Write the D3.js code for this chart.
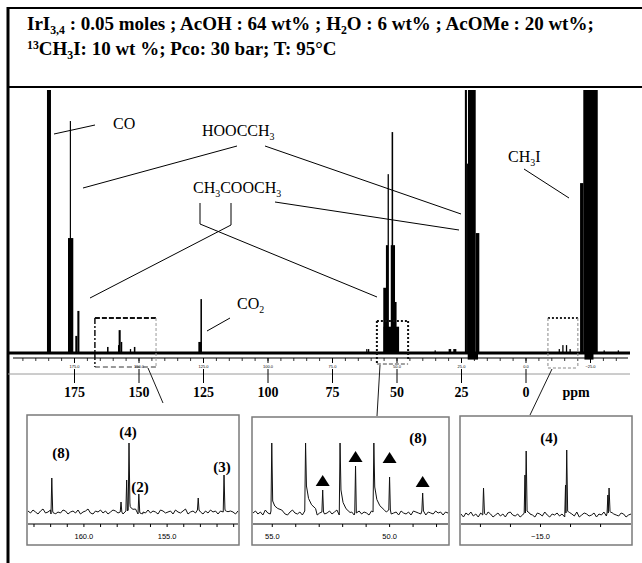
<!DOCTYPE html>
<html>
<head>
<meta charset="utf-8">
<script src="https://cdn.jsdelivr.net/npm/d3@7"></script>
<style>
  html, body { margin: 0; padding: 0; background: #fff; }
  svg { display: block; }
</style>
</head>
<body>
<svg id="fig" width="642" height="563"></svg>
<script>
// ---------------- data ----------------
// Overview 13C spectrum: stick positions (ppm), widths (ppm), heights (% of full scale, >100 runs off the top)
const peakPpm    = [184.7, 176.3, 176.4, 174.1, 173.3, 161.9, 157.7, 157.3, 156.6, 153.1, 151.5,
                    126.2, 125.7, 61.5, 60.8, 52.0, 54.6, 53.7, 53.2, 51.4, 51.6, 50.3,
                    35.0, 29.3, 27.4, 23.1, 22.5, 20.8, 18.6, 20.4,
                    -13.1, -14.5, -15.9, -17.3, -21.8, -25.2, -24.6, -30.5, -36.0];
const peakWidth  = [1.55, 2.05, 0.45, 0.8, 0.8, 0.6, 0.5, 0.8, 0.6, 0.5, 0.6,
                    1.2, 0.6, 0.5, 0.5, 6.0, 1.05, 0.8, 0.5, 1.65, 0.6, 0.65,
                    0.5, 1.0, 1.2, 0.8, 0.4, 3.0, 1.4, 4.0,
                    0.5, 0.5, 0.5, 0.5, 1.3, 5.6, 3.5, 0.5, 0.5];
const peakHeight = [120, 43.7, 88.2, 6.5, 16, 2.3, 3, 8.7, 4.2, 1.5, 2.3,
                    4.2, 20.5, 1.5, 1.5, 10, 24.8, 41, 68, 41, 84, 19.4,
                    1, 1.5, 1.5, 120, 72, 120, 45.6, -2.5,
                    1.5, 3, 3, 1.5, 64.6, 120, -2.5, 1, 1];

const axisMajor = [175, 150, 125, 100, 75, 50, 25, 0, -25];
const axisBig   = [175, 150, 125, 100, 75, 50, 25, 0];

// Expansion 1: carbonyl region 163 - 151 ppm
const ins1Ppm    = [161.9, 157.74, 157.4, 157.26, 156.67, 153.1, 151.55];
const ins1Height = [34, 10, 32, 69, 18, 14, 37];
const ins1Tail   = [3, 0, 0, 7, 2, 0, 3];
const ins1Noise  = [1,-1,2,0,-2,1,3,-1,0,2,-2,1,0,-1,2,1,-2,0,1,-1,2,-2,0,1,3,-1,-2,1,0,2,
                    -1,1,-2,0,2,1,-1,0,-2,1,2,0,-1,3,-2,1,0,-1,2,-1,1,0,-2,2,1,-1,0,1,-2,2,
                    0,-1,1,3,-2,0,1,-1,2,0,-2,1,-1,2,0,1,-2,1,0,2,-1,1,0,-2,1];
const ins1Labels = ["(8)", "(4)", "(2)", "(3)"];

// Expansion 2: methoxy region 56 - 47.5 ppm
const ins2Ppm    = [55.0, 53.56, 52.09, 50.65, 52.83, 51.43, 49.98, 48.57];
const ins2Height = [70, 70, 70, 70, 23, 47, 36, 20];
const ins2Tail   = [10, 25, 25, 25, 0, 0, 0, 0];
const ins2Marked = [52.83, 51.43, 49.98, 48.57];
const ins2MarkLevel = [27, 51, 50, 26];
const ins2Noise  = [0,2,-1,1,-2,3,0,-1,2,-2,1,0,2,-1,-2,1,3,0,-1,1,-2,2,0,1,-1,2,-2,0,1,-1,
                    0,2,-1,1,3,-2,0,1,-1,2,1,-2,0,2,-1,1,0,-2,2,1,-1,0,2,-2,1,3,-1,0,1,-2,
                    2,0,-1,1,-2,2,1,0,-1,2,-2,1,0,-1,2,0,1,-2,1,0];

// Expansion 3: region around -15 ppm
const ins3Ppm    = [-13.12, -14.5, -14.54, -15.85, -15.89, -17.26, -17.3];
const ins3Height = [27, 40, 64, 30, 65, 20, 27];
const ins3Tail   = [3, 3, 4, 3, 4, 3, 3];
const ins3Noise  = [1,-2,2,0,3,-1,1,-2,2,0,-1,3,1,-2,0,2,-1,1,-2,2,3,0,-1,1,-2,0,2,-1,1,0,
                    -2,2,1,-1,3,0,-2,1,0,2,-1,1,-2,2,0,1,-1,3,-2,0,2,1,-1,0,2,-2,1,0,3,-1,
                    2,-2,1,0,-1,2,1,-2,0,1];

// ---------------- drawing ----------------
const svg = d3.select("#fig");
const serif = "'Liberation Serif','Times New Roman',serif";
const sans = "'Liberation Sans',Arial,sans-serif";

// text with sub/superscripts: segs = [[text, "sub"|"sup"|undefined], ...]
function richText(g, x, y, segs, size, weight, anchor) {
  const t = g.append("text").attr("x", x).attr("y", y)
    .attr("font-family", serif).attr("font-size", size)
    .attr("font-weight", weight || "normal")
    .attr("text-anchor", anchor || "start");
  let shift = 0;
  segs.forEach(([s, mode]) => {
    const target = mode === "sub" ? size * 0.22 : mode === "sup" ? -size * 0.32 : 0;
    t.append("tspan")
      .attr("dy", target - shift)
      .attr("font-size", mode ? size * 0.62 : size)
      .text(s);
    shift = target;
  });
  return t;
}

function line(g, x1, y1, x2, y2, stroke, w, dash) {
  return g.append("line").attr("x1", x1).attr("y1", y1).attr("x2", x2).attr("y2", y2)
    .attr("stroke", stroke || "#000").attr("stroke-width", w || 1)
    .attr("stroke-dasharray", dash || null);
}

// frame and title block
line(svg, 8, 8, 642, 8, "#000", 2);
line(svg, 8, 7, 8, 563, "#000", 3);
line(svg, 8, 87, 642, 87, "#000", 2);

richText(svg, 27, 30, [["IrI"], ["3,4", "sub"], [" : 0.05 moles ; AcOH : 64 wt% ; H"], ["2", "sub"],
  ["O : 6 wt% ; AcOMe : 20 wt%;"]], 19, "bold");
richText(svg, 27, 55, [["13", "sup"], ["CH"], ["3", "sub"], ["I: 10 wt %; Pco: 30 bar; T: 95°C"]], 19, "bold");

// main spectrum
const xMain = d3.scaleLinear().domain([175, -25]).range([74, 590]);
const yMain = d3.scaleLinear().domain([0, 100]).range([353, 90]);

svg.append("defs").append("clipPath").attr("id", "mainClip")
  .append("rect").attr("x", 9).attr("y", 90).attr("width", 633).attr("height", 274);

const peaks = peakPpm.map((p, i) => ({ p, w: peakWidth[i], h: peakHeight[i] }));
svg.append("g").attr("clip-path", "url(#mainClip)")
  .selectAll("rect").data(peaks).join("rect")
  .attr("x", d => xMain(d.p + d.w / 2))
  .attr("width", d => xMain(d.p - d.w / 2) - xMain(d.p + d.w / 2))
  .attr("y", d => yMain(Math.max(d.h, 0)))
  .attr("height", d => Math.abs(yMain(d.h) - yMain(0)))
  .attr("fill", "#000");

// baseline trace
line(svg, 8, yMain(0), 630, yMain(0), "#000", 3);

// ppm axis with minor ticks
const minorTicks = d3.range(-35, 201, 5).filter(v => xMain(v) > 13 && xMain(v) < 628);
const axMinor = svg.append("g").attr("transform", "translate(0,358)")
  .call(d3.axisBottom(xMain).tickValues(minorTicks).tickSize(3).tickFormat(""));
axMinor.select(".domain").remove();
axMinor.selectAll("line").attr("stroke", "#000").attr("stroke-width", 0.8);
line(svg, 13, 358, 628, 358, "#000", 1);

const axTiny = svg.append("g").attr("transform", "translate(0,358)")
  .call(d3.axisBottom(xMain).tickValues(axisMajor).tickSize(5).tickPadding(2).tickFormat(d3.format(".1f")));
axTiny.select(".domain").remove();
axTiny.selectAll("text").attr("font-size", 4).attr("font-family", sans).attr("fill", "#000");

line(svg, 8, 374, 630, 374, "#9a9a9a", 1);

const axBig = svg.append("g").attr("transform", "translate(0,369)")
  .call(d3.axisBottom(xMain).tickValues(axisBig).tickSize(14).tickPadding(4).tickFormat(d3.format("d")));
axBig.select(".domain").remove();
axBig.selectAll("line").attr("stroke", "#000").attr("stroke-width", 1);
axBig.selectAll("text").attr("font-size", 14).attr("font-weight", "bold")
  .attr("font-family", serif).attr("fill", "#000");
svg.append("text").attr("x", 576).attr("y", 397).attr("text-anchor", "middle")
  .attr("font-family", serif).attr("font-size", 14).attr("font-weight", "bold").text("ppm");

// assignments
const ann = svg.append("g");
richText(ann, 113, 129, [["CO"]], 16);
line(ann, 54, 134, 95, 125);
richText(ann, 202, 136, [["HOOCCH"], ["3", "sub"]], 16);
line(ann, 237, 146, 83, 188);
line(ann, 265, 146, 461, 214);
richText(ann, 193, 193, [["CH"], ["3", "sub"], ["COOCH"], ["3", "sub"]], 16);
line(ann, 275, 202, 459, 230);
line(ann, 200, 203, 200, 224);
line(ann, 231, 203, 231, 225);
line(ann, 200, 224, 377, 297);
line(ann, 231, 225, 90, 298);
richText(ann, 237, 309, [["CO"], ["2", "sub"]], 16);
line(ann, 230, 318, 207, 331);
richText(ann, 508, 162, [["CH"], ["3", "sub"], ["I"]], 16);
line(ann, 524, 169, 569, 198);

// expansion frames on the main trace
const bx = svg.append("g").attr("fill", "none");
{
  const l = xMain(166.9), r = xMain(143.2);
  line(bx, l, 318, r, 318, "#111", 1.8, "5,2");
  line(bx, l, 318, l, 367, "#111", 1.5, "6,2,2,2");
  line(bx, r, 318, r, 367, "#9a9a9a", 1, "3,2");
  line(bx, l, 367, r, 367, "#333", 1, "5,3");
}
{
  const l = xMain(57.6), r = xMain(45.5);
  line(bx, l, 321, r, 321, "#111", 2, "2,2");
  line(bx, l, 321, l, 365, "#111", 2, "2,2");
  line(bx, r, 321, r, 361, "#111", 2, "2,2");
  line(bx, l, 364, r, 364, "#444", 1, "4,2");
}
{
  const l = xMain(-8.7), r = xMain(-20.3);
  line(bx, l, 318, r, 318, "#222", 1.8, "2,2");
  line(bx, l, 318, l, 368, "#888", 1, "3,2");
  line(bx, r, 318, r, 368, "#888", 1, "3,2");
  line(bx, l, 368, r, 368, "#888", 1, "3,2");
}
// connectors to the expansions
line(svg, 148, 368, 163, 403, "#000", 0.9);
line(svg, 380, 365, 377, 416, "#000", 0.9);
line(svg, 552, 369, 530, 415, "#000", 0.9);

// expansion panels
function drawInset(cfg) {
  const [x0, y0, x1, y1] = cfg.box;
  const g = svg.append("g");
  const id = "clip" + cfg.name;
  svg.select("defs").append("clipPath").attr("id", id)
    .append("rect").attr("x", x0 + 1).attr("y", y0 + 1).attr("width", x1 - x0 - 2).attr("height", y1 - y0 - 2);

  const x = d3.scaleLinear().domain(cfg.domain).range([x0 + 1, x1 - 1]);
  const y = d3.scaleLinear().domain([0, 100]).range([cfg.base, cfg.base - 100]);

  // noisy baseline samples across the panel
  const n = cfg.noise.length;
  const [r0, r1] = x.range();
  let pts = cfg.noise.map((v, i) => [r0 + (r1 - r0) * i / (n - 1), v]);
  const noiseAt = px => {
    const i = Math.round((px - r0) / (r1 - r0) * (n - 1));
    return cfg.noise[Math.max(0, Math.min(n - 1, i))];
  };
  cfg.ppm.forEach((p, i) => {
    const px = x(p), h = cfg.height[i], t = cfg.tail[i];
    const b = noiseAt(px);
    const reach = t > 0 ? cfg.tailSpan : 1.2;
    pts = pts.filter(q => q[0] < px - 1.2 || q[0] > px + reach);
    pts.push([px - 0.8, b], [px, h]);
    if (t > 0) {
      pts.push([px + 0.9, b + t], [px + cfg.tailSpan * 0.3, b + t * 0.5],
               [px + cfg.tailSpan * 0.6, b + t * 0.25], [px + cfg.tailSpan, b + t * 0.1]);
    } else {
      pts.push([px + 0.8, b]);
    }
  });
  pts.sort((a, b) => a[0] - b[0]);

  g.append("path")
    .attr("clip-path", `url(#${id})`)
    .attr("d", d3.line().x(d => d[0]).y(d => y(d[1]))(pts))
    .attr("fill", "none").attr("stroke", "#111").attr("stroke-width", 1)
    .attr("stroke-linejoin", "round");

  // panel axis
  const ax = g.append("g").attr("transform", `translate(0,${cfg.axisY})`)
    .call(d3.axisBottom(x).tickValues(cfg.ticks).tickSize(3).tickPadding(7)
      .tickFormat(v => cfg.labels.includes(v) ? d3.format(".1f")(v) : ""));
  ax.select(".domain").attr("d", `M${x0 + 1},0H${x1 - 1}`).attr("stroke", "#000").attr("stroke-width", 1.2);
  ax.selectAll("line").attr("stroke", "#000");
  ax.selectAll("text").attr("font-family", sans).attr("font-size", 7.5).attr("fill", "#000");

  g.append("rect").attr("x", x0).attr("y", y0).attr("width", x1 - x0).attr("height", y1 - y0)
    .attr("fill", "none").attr("stroke", "#7a7a7a").attr("stroke-width", 1.5);

  cfg.notes.forEach(([txt, px, py]) => {
    g.append("text").attr("x", px).attr("y", py).attr("text-anchor", "middle")
      .attr("font-family", serif).attr("font-size", 15).attr("font-weight", "bold").text(txt);
  });
  return { x, y, g };
}

drawInset({
  name: "a", box: [27, 415, 239, 545], domain: [163.33, 150.71], base: 512, axisY: 524,
  noise: ins1Noise, ppm: ins1Ppm, height: ins1Height, tail: ins1Tail, tailSpan: 4,
  ticks: d3.range(151, 164), labels: [160, 155],
  notes: [[ins1Labels[0], 61, 458], [ins1Labels[1], 128, 437], [ins1Labels[2], 140, 492], [ins1Labels[3], 222, 472]]
});

const p2 = drawInset({
  name: "b", box: [252, 417, 449, 545], domain: [55.8, 47.49], base: 513, axisY: 524,
  noise: ins2Noise, ppm: ins2Ppm, height: ins2Height, tail: ins2Tail, tailSpan: 10,
  ticks: d3.range(48, 56), labels: [55, 50],
  notes: [["(8)", 418, 443]]
});
p2.g.selectAll("path.mark").data(ins2Marked).join("path").attr("class", "mark")
  .attr("d", (p, i) => {
    const cx = p2.x(p), by = p2.y(ins2MarkLevel[i]);
    return `M${cx - 7},${by}L${cx + 7},${by}L${cx},${by - 11}Z`;
  })
  .attr("fill", "#000");

drawInset({
  name: "c", box: [460, 416, 632, 545], domain: [-12.37, -18.03], base: 515, axisY: 524,
  noise: ins3Noise, ppm: ins3Ppm, height: ins3Height, tail: ins3Tail, tailSpan: 3,
  ticks: [-13, -14, -15, -16, -17], labels: [-15],
  notes: [["(4)", 549, 443]]
});
</script>
</body>
</html>
